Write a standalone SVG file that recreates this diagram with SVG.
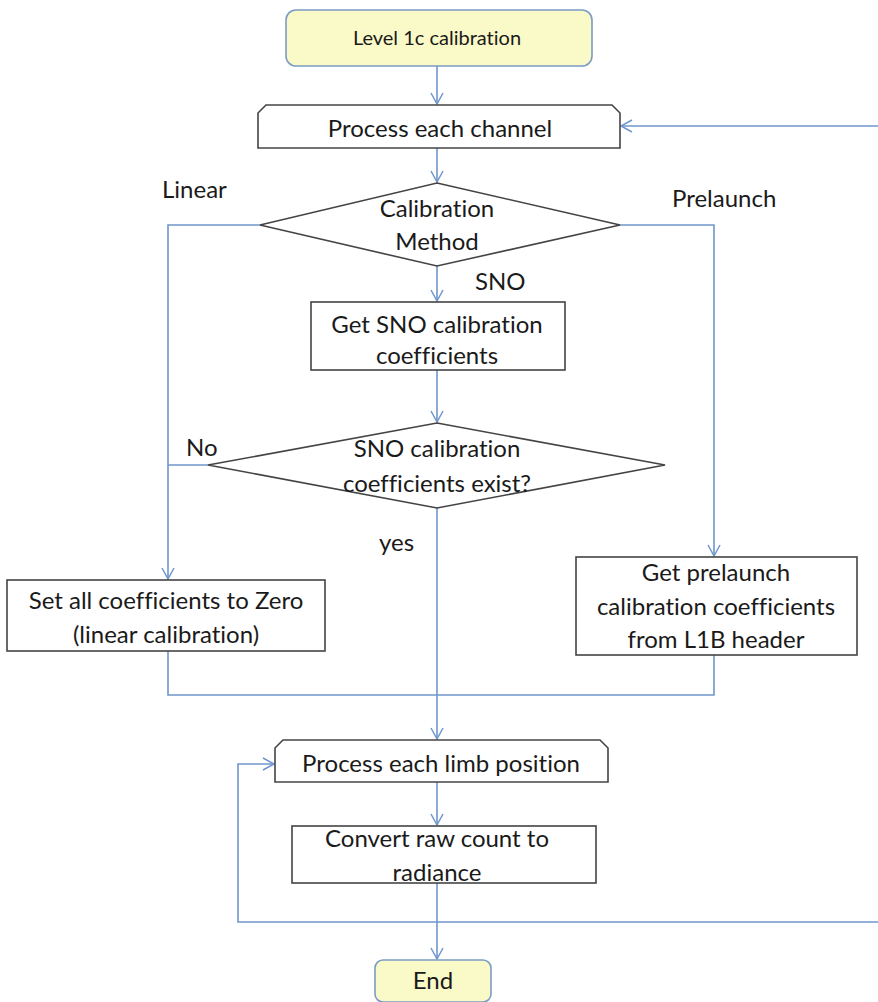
<svg xmlns="http://www.w3.org/2000/svg" width="878" height="1002" viewBox="0 0 878 1002">
<defs>
<marker id="arr" markerWidth="14" markerHeight="14" refX="12" refY="7" orient="auto" markerUnits="userSpaceOnUse">
<path d="M1,1 L12,7 L1,13" fill="none" stroke="#6f96cc" stroke-width="1.5"/>
</marker>
</defs>
<style>
.box{fill:#fff;stroke:#444;stroke-width:1.6}
.term{fill:#fafac8;stroke:#7b9cc4;stroke-width:1.6}
.t{font-family:Lato,"Liberation Sans",sans-serif;font-size:24px;fill:#1a1a1a;text-anchor:middle;font-variant-ligatures:none}
.s{font-size:20px}
.lbl{font-family:Lato,"Liberation Sans",sans-serif;font-size:24px;fill:#1a1a1a}
.c{fill:none;stroke:#6f96cc;stroke-width:1.6}
</style>
<rect width="878" height="1002" fill="#fff"/>
<g id="connectors">
<path class="c" d="M437,66 V104" marker-end="url(#arr)"/>
<path class="c" d="M878,126 H621" marker-end="url(#arr)"/>
<path class="c" d="M437,148 V182" marker-end="url(#arr)"/>
<path class="c" d="M260,225 H168 V579" marker-end="url(#arr)"/>
<path class="c" d="M620,225 H714 V556" marker-end="url(#arr)"/>
<path class="c" d="M437,266 V301" marker-end="url(#arr)"/>
<path class="c" d="M437,370 V422" marker-end="url(#arr)"/>
<path class="c" d="M208,465 H168"/>
<path class="c" d="M437,508 V739" marker-end="url(#arr)"/>
<path class="c" d="M168,651 V695 H714 V655"/>
<path class="c" d="M878,922 H238 V764 H274" marker-end="url(#arr)"/>
<path class="c" d="M437,782 V825" marker-end="url(#arr)"/>
<path class="c" d="M437,883 V959" marker-end="url(#arr)"/>
</g>
<g id="start">
<rect class="term" x="286" y="10" width="306" height="56" rx="10"/>
<text class="t s" x="437" y="45">Level 1c calibration</text>
</g>
<g id="channel">
<path class="box" d="M266,105 H612 L620,113 V148 H258 V113 Z"/>
<text class="t" x="440" y="137">Process each channel</text>
</g>
<g id="method">
<path class="box" d="M437,183 L620,225 L437,266 L260,225 Z"/>
<text class="t" x="437" y="217">Calibration</text>
<text class="t" x="437" y="250">Method</text>
</g>
<g id="labels">
<text class="lbl" x="162" y="198">Linear</text>
<text class="lbl" x="672" y="207">Prelaunch</text>
<text class="lbl" x="475" y="290">SNO</text>
<text class="lbl" x="186" y="456">No</text>
<text class="lbl" x="379" y="551">yes</text>
</g>
<g id="sno">
<rect class="box" x="311" y="302" width="254" height="68"/>
<text class="t" x="437" y="333">Get SNO calibration</text>
<text class="t" x="437" y="364">coefficients</text>
</g>
<g id="exist">
<path class="box" d="M437,423 L665,465 L437,508 L208,465 Z"/>
<text class="t" x="437" y="457">SNO calibration</text>
<text class="t" x="437" y="492">coefficients exist?</text>
</g>
<g id="zero">
<rect class="box" x="7" y="580" width="318" height="71"/>
<text class="t" x="166" y="609">Set all coefficients to Zero</text>
<text class="t" x="166" y="643">(linear calibration)</text>
</g>
<g id="prelaunch">
<rect class="box" x="576" y="557" width="281" height="98"/>
<text class="t" x="716" y="581">Get prelaunch</text>
<text class="t" x="716" y="615">calibration coefficients</text>
<text class="t" x="716" y="648">from L1B header</text>
</g>
<g id="limb">
<path class="box" d="M283,740 H600 L608,748 V782 H275 V748 Z"/>
<text class="t" x="441" y="772">Process each limb position</text>
</g>
<g id="convert">
<rect class="box" x="292" y="826" width="304" height="57"/>
<text class="t" x="437" y="847">Convert raw count to</text>
<text class="t" x="437" y="881">radiance</text>
</g>
<g id="end">
<rect class="term" x="375" y="960" width="116" height="42" rx="8"/>
<text class="t" x="433" y="989">End</text>
</g>
</svg>
